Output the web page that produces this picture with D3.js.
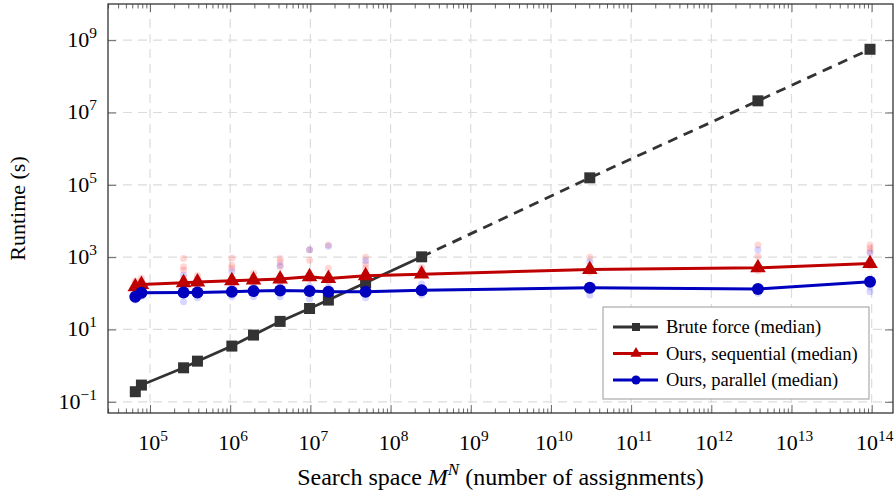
<!DOCTYPE html>
<html>
<head>
<meta charset="utf-8">
<script src="https://cdn.jsdelivr.net/npm/d3@7"></script>
<style>
body { margin: 0; background: #fff; }
svg text { font-family: "Liberation Serif", "Times New Roman", Times, "DejaVu Serif", serif; fill: #000; }
</style>
</head>
<body>
<div id="chart"></div>
<script>
const WIDTH = 896;
const HEIGHT = 491;
const FONT = "'Liberation Serif', 'Times New Roman', Times, serif";

// search space sizes M^N (2^k and 5^k)
const searchSpace = [65536, 78125, 262144, 390625, 1048576, 1953125, 4194304, 9765625,
    16777216, 48828125, 244140625, 30517578125, 3814697265625, 95367431640625];

// brute force medians (measured part, then extrapolated part)
const bruteMeasured = [0.19, 0.29, 0.87, 1.33, 3.47, 7.0, 16.7, 38, 65, 195, 1020];
const bruteExtrapolated = [1020, 1.56e5, 2.1e7, 5.6e8];

const seqMedian = [151, 176, 195, 204, 221, 232, 247, 286, 258, 304, 339, 458, 507, 670];
const parMedian = [80, 103, 106, 106, 110, 115, 120, 115, 110, 110, 122, 142, 131, 208];

// individual runs (faint dots)
const seqRuns = [
    [130, 185, 220], [150, 210, 260], [260, 440, 540, 920, 160], [180, 250, 310],
    [490, 600, 950, 180], [200, 280, 360], [540, 740, 920, 200], [820, 1600, 250],
    [490, 2150, 220], [490, 650, 1000, 260], [400, 520], [1000, 380],
    [2150, 1050, 420], [2150, 1770, 1450, 560]
];
const parRuns = [
    [65, 92], [82, 125], [58, 320, 150], [75, 140], [400, 80, 150], [80, 150],
    [80, 160, 600], [70, 1600, 160], [80, 2000, 150], [75, 800, 150], [90, 180],
    [90, 740], [1600, 100], [110, 1300, 150]
];

const xDecades = [5, 6, 7, 8, 9, 10, 11, 12, 13, 14];
const yDecades = [-1, 1, 3, 5, 7, 9];

const legendLabels = ["Brute force (median)", "Ours, sequential (median)", "Ours, parallel (median)"];

const COLORS = { brute: "#333333", seq: "#bf0000", par: "#0000bf" };

const MARGIN = { TOP: 4, BOTTOM: 78, LEFT: 108, RIGHT: 3 };
const widthSVG = WIDTH - MARGIN.LEFT - MARGIN.RIGHT;
const heightSVG = HEIGHT - MARGIN.TOP - MARGIN.BOTTOM;

const SVG = d3.select("#chart")
    .append("svg")
    .attr("width", WIDTH)
    .attr("height", HEIGHT)
    .attr("font-family", FONT);

const container = SVG.append("g")
    .attr("transform", `translate(${MARGIN.LEFT}, ${MARGIN.TOP})`);

const x = d3.scaleLog().domain([10 ** 4.476, 10 ** 14.266]).range([0, widthSVG]);
const y = d3.scaleLog().domain([10 ** -1.31, 1e10]).range([heightSVG, 0]);

const xMajor = xDecades.map(d => 10 ** d);
const yMajor = yDecades.map(d => 10 ** d);
const xMinor = [];
for (let e = 4; e <= 14; e++) {
    for (let m = 2; m <= 9; m++) {
        const v = m * 10 ** e;
        if (v > x.domain()[0] && v < x.domain()[1]) xMinor.push(v);
    }
}

// grid
container.append("g")
    .selectAll("line")
    .data(xMajor)
    .enter()
    .append("line")
    .attr("x1", d => x(d)).attr("x2", d => x(d))
    .attr("y1", 0).attr("y2", heightSVG)
    .attr("stroke", "#dcdcdc").attr("stroke-width", 1.2)
    .attr("stroke-dasharray", "9,6");

container.append("g")
    .selectAll("line")
    .data(yMajor)
    .enter()
    .append("line")
    .attr("y1", d => y(d)).attr("y2", d => y(d))
    .attr("x1", 0).attr("x2", widthSVG)
    .attr("stroke", "#dcdcdc").attr("stroke-width", 1.2)
    .attr("stroke-dasharray", "9,6");

// ticks (inward, on all sides)
const tickAxis = (axis, transform) => {
    const g = container.append("g").attr("transform", transform).call(axis);
    g.select(".domain").remove();
    g.selectAll("line").attr("stroke", "#666").attr("stroke-width", 1);
    g.selectAll("text").remove();
};
tickAxis(d3.axisBottom(x).tickValues(xMajor).tickSize(-8), `translate(0, ${heightSVG})`);
tickAxis(d3.axisBottom(x).tickValues(xMinor).tickSize(-4.5), `translate(0, ${heightSVG})`);
tickAxis(d3.axisTop(x).tickValues(xMajor).tickSize(-8), "translate(0, 0)");
tickAxis(d3.axisTop(x).tickValues(xMinor).tickSize(-4.5), "translate(0, 0)");
tickAxis(d3.axisLeft(y).tickValues(yMajor).tickSize(-8), "translate(0, 0)");
tickAxis(d3.axisRight(y).tickValues(yMajor).tickSize(-8), `translate(${widthSVG}, 0)`);

// frame
container.append("rect")
    .attr("width", widthSVG).attr("height", heightSVG)
    .attr("fill", "none").attr("stroke", "#333").attr("stroke-width", 1.3);

// tick labels
const TICK_FONT = 22;
const powerLabel = (sel, exp) => {
    sel.append("tspan").text("10");
    sel.append("tspan")
        .attr("dy", -TICK_FONT * 0.42)
        .attr("font-size", TICK_FONT * 0.7)
        .text(exp < 0 ? "\u2212" + (-exp) : exp);
};

container.append("g")
    .selectAll("text")
    .data(xDecades)
    .enter()
    .append("text")
    .attr("x", d => x(10 ** d) + 3)
    .attr("y", heightSVG + 37)
    .attr("text-anchor", "middle")
    .attr("font-size", TICK_FONT)
    .each(function (d) { powerLabel(d3.select(this), d); });

container.append("g")
    .selectAll("text")
    .data(yDecades)
    .enter()
    .append("text")
    .attr("x", -11)
    .attr("y", d => y(10 ** d) + 7)
    .attr("text-anchor", "end")
    .attr("font-size", TICK_FONT)
    .each(function (d) { powerLabel(d3.select(this), d); });

// axis titles
const xTitle = SVG.append("text")
    .attr("x", MARGIN.LEFT + widthSVG / 2)
    .attr("y", 485)
    .attr("text-anchor", "middle")
    .attr("font-size", 24);
xTitle.append("tspan").text("Search space ");
xTitle.append("tspan").attr("font-style", "italic").text("M");
xTitle.append("tspan").attr("font-style", "italic").attr("font-size", 17).attr("dy", -10).text("N");
xTitle.append("tspan").attr("dy", 10).text(" (number of assignments)");

SVG.append("text")
    .attr("transform", `translate(25, ${MARGIN.TOP + heightSVG / 2}) rotate(-90)`)
    .attr("text-anchor", "middle")
    .attr("font-size", 22)
    .text("Runtime (s)");

// faint individual runs
const runPoints = (runs, color) => {
    const pts = [];
    runs.forEach((vals, i) => vals.forEach(v => pts.push({ x: searchSpace[i], y: v })));
    container.append("g")
        .selectAll("circle")
        .data(pts)
        .enter()
        .append("circle")
        .attr("cx", d => x(d.x))
        .attr("cy", d => y(d.y))
        .attr("r", 3.5)
        .attr("fill", color)
        .attr("opacity", 0.18);
};
runPoints(seqRuns, "#ff2020");
runPoints(parRuns, "#2020ff");

const line = d3.line().x(d => x(d[0])).y(d => y(d[1]));

// brute force
const bruteMeasuredPts = bruteMeasured.map((v, i) => [searchSpace[i], v]);
const bruteExtraPts = bruteExtrapolated.map((v, i) => [searchSpace[i + 10], v]);

container.append("path")
    .datum(bruteExtraPts)
    .attr("d", line)
    .attr("fill", "none")
    .attr("stroke", COLORS.brute)
    .attr("stroke-width", 2.8)
    .attr("stroke-dasharray", "10,7");

container.append("path")
    .datum(bruteMeasuredPts)
    .attr("d", line)
    .attr("fill", "none")
    .attr("stroke", COLORS.brute)
    .attr("stroke-width", 2.8);

container.append("g")
    .selectAll("rect")
    .data(bruteMeasuredPts.concat(bruteExtraPts.slice(1)))
    .enter()
    .append("rect")
    .attr("x", d => x(d[0]) - 5.5)
    .attr("y", d => y(d[1]) - 5.5)
    .attr("width", 11)
    .attr("height", 11)
    .attr("fill", COLORS.brute);

// sequential
const seqPts = seqMedian.map((v, i) => [searchSpace[i], v]);
container.append("path")
    .datum(seqPts)
    .attr("d", line)
    .attr("fill", "none")
    .attr("stroke", COLORS.seq)
    .attr("stroke-width", 3);

const triangle = d3.symbol().type(d3.symbolTriangle).size(105);
container.append("g")
    .selectAll("path")
    .data(seqPts)
    .enter()
    .append("path")
    .attr("d", triangle)
    .attr("transform", d => `translate(${x(d[0])}, ${y(d[1])})`)
    .attr("fill", COLORS.seq);

// parallel
const parPts = parMedian.map((v, i) => [searchSpace[i], v]);
container.append("path")
    .datum(parPts)
    .attr("d", line)
    .attr("fill", "none")
    .attr("stroke", COLORS.par)
    .attr("stroke-width", 3);

container.append("g")
    .selectAll("circle")
    .data(parPts)
    .enter()
    .append("circle")
    .attr("cx", d => x(d[0]))
    .attr("cy", d => y(d[1]))
    .attr("r", 6)
    .attr("fill", COLORS.par);

// legend
const legend = SVG.append("g").attr("transform", "translate(603, 307)");
legend.append("rect")
    .attr("width", 266).attr("height", 92)
    .attr("fill", "#fff").attr("stroke", "#999").attr("stroke-width", 1);

const legendColors = [COLORS.brute, COLORS.seq, COLORS.par];
legendLabels.forEach((label, i) => {
    const row = legend.append("g").attr("transform", `translate(0, ${20 + i * 26.5})`);
    row.append("line")
        .attr("x1", 10).attr("x2", 55)
        .attr("stroke", legendColors[i]).attr("stroke-width", 2.8);
    if (i === 0) {
        row.append("rect").attr("x", 29).attr("y", -4).attr("width", 8).attr("height", 8)
            .attr("fill", legendColors[i]);
    } else if (i === 1) {
        row.append("path").attr("d", d3.symbol().type(d3.symbolTriangle).size(55)())
            .attr("transform", "translate(33, 0)").attr("fill", legendColors[i]);
    } else {
        row.append("circle").attr("cx", 33).attr("r", 4.5).attr("fill", legendColors[i]);
    }
    row.append("text")
        .attr("x", 63)
        .attr("y", 6)
        .attr("font-size", 18.5)
        .text(label);
});
</script>
</body>
</html>
